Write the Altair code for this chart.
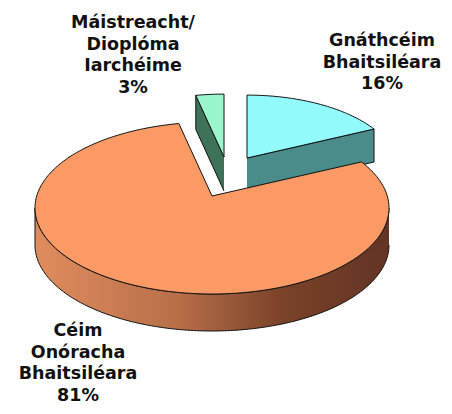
import altair as alt
import numpy as np
import pandas as pd

# ---- data ----
categories = ["Gnáthcéim Bhaitsiléara", "Céim Onóracha Bhaitsiléara", "Máistreacht/ Dioplóma Iarchéime"]
values = [16, 81, 3]
label_lines = [["Gnáthcéim", "Bhaitsiléara"], ["Céim", "Onóracha", "Bhaitsiléara"], ["Máistreacht/", "Dioplóma", "Iarchéime"]]

# ---- styles / layout (not data) ----
top_colors = ["#92FAFA", "#FC9A66", "#9BF7CB"]
side_colors = ["#4A8C8A", "#B06A45", "#3E7259"]
explode_off = [(35, -38), (0, 0), (12, -39)]
slice_scale = [0.85, 1.0, 0.85]
depths = [33, 37, 34]
label_first_line = [(382, 41), (78, 331), (133, 23)]
CX, CY = 212, 196
RX, A, B = 177, 12, 86

total = float(sum(values))
bounds = []
acc = 0.0
for v in values:
    start = acc / total * 360.0
    acc += v
    bounds.append((start, acc / total * 360.0))


def rim(i, phi, down=0.0):
    ox, oy = explode_off[i]
    s = slice_scale[i]
    r = np.radians(phi)
    return (CX + ox + s * RX * np.sin(r), CY + oy + s * (A - B * np.cos(r)) + down)


def apex(i, down=0.0):
    ox, oy = explode_off[i]
    return (CX + ox, CY + oy + down)


def arc(i, a0, a1, down=0.0):
    n = max(2, int(abs(a1 - a0)) + 1)
    return [rim(i, p, down) for p in np.linspace(a0, a1, n)]


polys = []  # (points, fill, gradient?)
draw_order = [0, 2, 1]
for i in draw_order:
    a0, a1 = bounds[i]
    d = depths[i]
    lo, hi = max(a0, 90.0), min(a1, 270.0)
    if hi > lo:
        pts = arc(i, lo, hi) + arc(i, hi, lo, d)
        polys.append((pts, None, True))
    if np.sin(np.radians(a0)) < -1e-6:
        pts = [apex(i), rim(i, a0), rim(i, a0, d), apex(i, d)]
        polys.append((pts, side_colors[i], False))
    if np.sin(np.radians(a1)) > 1e-6:
        pts = [apex(i), rim(i, a1), rim(i, a1, d), apex(i, d)]
        polys.append((pts, side_colors[i], False))
    pts = [apex(i)] + arc(i, a0, a1) + [apex(i)]
    polys.append((pts, top_colors[i], False))

rows = []
for pid, (pts, fill, grad) in enumerate(polys):
    for k, (x, y) in enumerate(pts):
        rows.append({"pid": pid, "ord": k, "x": float(x), "y": float(y)})
df = pd.DataFrame(rows)

xs = alt.Scale(domain=[8, 444], nice=False, zero=False)
ys = alt.Scale(domain=[8, 406], nice=False, zero=False, reverse=True)

layers = []
for pid, (pts, fill, grad) in enumerate(polys):
    if grad:
        fill_val = alt.Gradient(
            gradient="linear",
            stops=[
                alt.GradientStop(color="#E08C5E", offset=0),
                alt.GradientStop(color="#B86F49", offset=0.4),
                alt.GradientStop(color="#7A4229", offset=0.7),
                alt.GradientStop(color="#623424", offset=1),
            ],
            x1=0, x2=1, y1=0, y2=0,
        )
    else:
        fill_val = fill
    layers.append(
        alt.Chart(df)
        .transform_filter(alt.datum.pid == pid)
        .mark_line(fill=fill_val, stroke="#111111", strokeWidth=1, strokeJoin="round")
        .encode(
            x=alt.X("x:Q", scale=xs, axis=None),
            y=alt.Y("y:Q", scale=ys, axis=None),
            order=alt.Order("ord:Q"),
        )
    )

lab_rows = []
for i in range(len(values)):
    txt = "\n".join(label_lines[i] + [f"{values[i]}%"])
    lab_rows.append({"x": label_first_line[i][0], "y": label_first_line[i][1], "t": txt})
lab_df = pd.DataFrame(lab_rows)

labels = (
    alt.Chart(lab_df)
    .mark_text(font="DejaVu Sans", fontWeight="bold", fontSize=17.5, lineBreak="\n",
               lineHeight=21.5, align="center", baseline="middle", color="#111111")
    .encode(
        x=alt.X("x:Q", scale=xs, axis=None),
        y=alt.Y("y:Q", scale=ys, axis=None),
        text="t:N",
    )
)

chart = (
    alt.layer(*layers, labels)
    .properties(width=436, height=398, padding=0, autosize=alt.AutoSizeParams(type="none"))
    .configure_view(stroke=None)
)

chart.save("out.html", embed_options={"renderer": "svg", "actions": False})
